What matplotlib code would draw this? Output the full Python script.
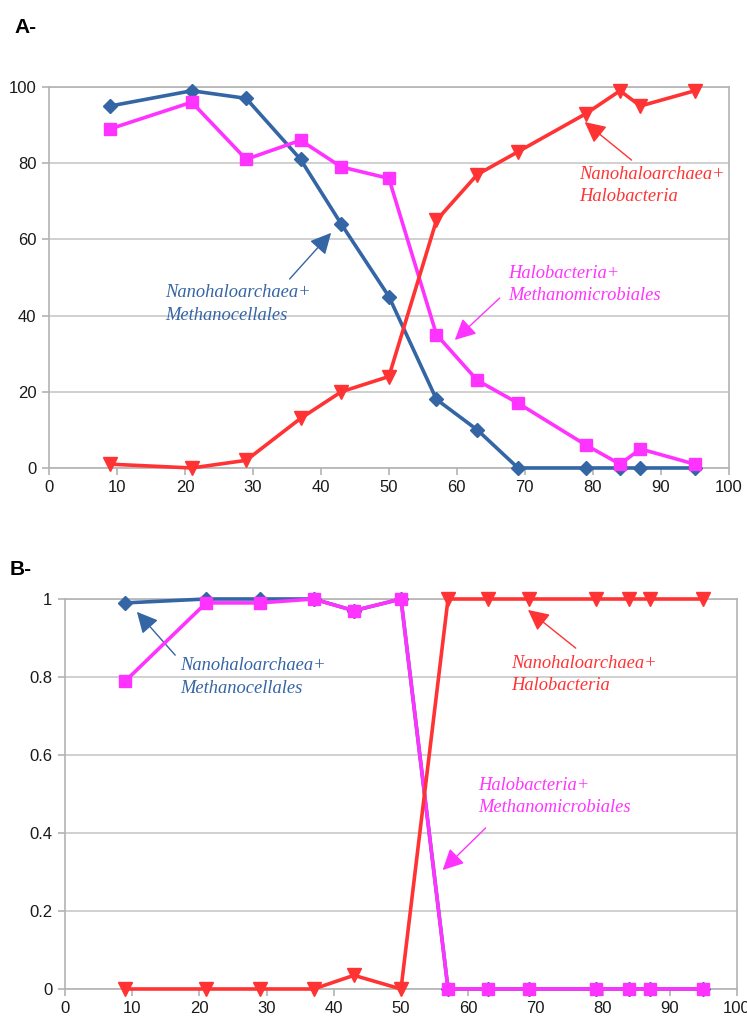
import numpy as np
import matplotlib.pyplot as plt

# sample positions (shared by both panels)
x = [9, 21, 29, 37, 43, 50, 57, 63, 69, 79, 84, 87, 95]

# panel A values (%)
a_meth = [95, 99, 97, 81, 64, 45, 18, 10, 0, 0, 0, 0, 0]
a_hmic = [89, 96, 81, 86, 79, 76, 35, 23, 17, 6, 1, 5, 1]
a_halo = [1, 0, 2, 13, 20, 24, 65, 77, 83, 93, 99, 95, 99]

# panel B values
b_meth = [0.99, 1, 1, 1, 0.97, 1, 0, 0, 0, 0, 0, 0, 0]
b_hmic = [0.79, 0.99, 0.99, 1, 0.97, 1, 0, 0, 0, 0, 0, 0, 0]
b_halo = [0, 0, 0, 0, 0.035, 0, 1, 1, 1, 1, 1, 1, 1]

blue = '#3465a4'
pink = '#ff33ff'
red = '#ff3333'

lab_meth = 'Nanohaloarchaea+\nMethanocellales'
lab_halo = 'Nanohaloarchaea+\nHalobacteria'
lab_hmic = 'Halobacteria+\nMethanomicrobiales'

fig = plt.figure(figsize=(7.47, 10.18), dpi=100)
axA = fig.add_axes([0.0656, 0.5403, 0.910, 0.3743])
axB = fig.add_axes([0.087, 0.0285, 0.8996, 0.3831])


def style(ax, ymax, yticks, ylabels):
    ax.set_xlim(0, 100)
    ax.set_ylim(0, ymax)
    ax.set_xticks(range(0, 101, 10))
    ax.set_yticks(yticks)
    ax.set_yticklabels(ylabels)
    ax.grid(axis='y', color='#c8c8c8', lw=1.2)
    ax.set_axisbelow(True)
    for s in ax.spines.values():
        s.set_color('#b3b3b3')
        s.set_linewidth(1.2)
    ax.tick_params(colors='#b3b3b3', labelcolor='#1a1a1a', length=5, width=1.2,
                   labelsize=12, pad=4)
    for t in ax.get_xticklabels() + ax.get_yticklabels():
        t.set_family('Liberation Sans')


def draw(ax, meth, hmic, halo):
    ax.plot(x, meth, color=blue, lw=2.6, marker='D', ms=7, clip_on=False, zorder=3)
    ax.plot(x, hmic, color=pink, lw=2.6, marker='s', ms=9, clip_on=False, zorder=4)
    ax.plot(x, halo, color=red, lw=2.6, marker='v', ms=9.5, clip_on=False, zorder=5)


def note(ax, text, color, txy, tail, head):
    ax.text(txy[0], txy[1], text, color=color, fontsize=13.3, style='italic',
            family='Liberation Serif', va='top', ha='left', linespacing=1.4)
    ax.annotate('', xy=head, xytext=tail,
                arrowprops=dict(arrowstyle='-|>', color=color, lw=1,
                                mutation_scale=32, shrinkA=0, shrinkB=0))


style(axA, 100, range(0, 101, 20), [str(v) for v in range(0, 101, 20)])
draw(axA, a_meth, a_hmic, a_halo)
note(axA, lab_meth, blue, (17.1, 48.2), (35.4, 49.6), (41.5, 61.7))
note(axA, lab_halo, red, (78.0, 79.2), (85.7, 80.8), (78.8, 90.8))
note(axA, lab_hmic, pink, (67.5, 53.2), (66.3, 44.6), (59.7, 33.6))

style(axB, 1, [0, 0.2, 0.4, 0.6, 0.8, 1], ['0', '0.2', '0.4', '0.6', '0.8', '1'])
draw(axB, b_meth, b_hmic, b_halo)
note(axB, lab_meth, blue, (17.1, 0.85), (16.4, 0.856), (10.7, 0.967))
note(axB, lab_halo, red, (66.4, 0.857), (76.0, 0.874), (68.9, 0.972))
note(axB, lab_hmic, pink, (61.5, 0.543), (62.6, 0.413), (56.2, 0.305))

fig.text(0.02, 0.982, 'A-', fontsize=15, weight='bold', family='Liberation Sans', va='top')
fig.text(0.013, 0.45, 'B-', fontsize=15, weight='bold', family='Liberation Sans', va='top')

fig.savefig('out.png', dpi=100)
